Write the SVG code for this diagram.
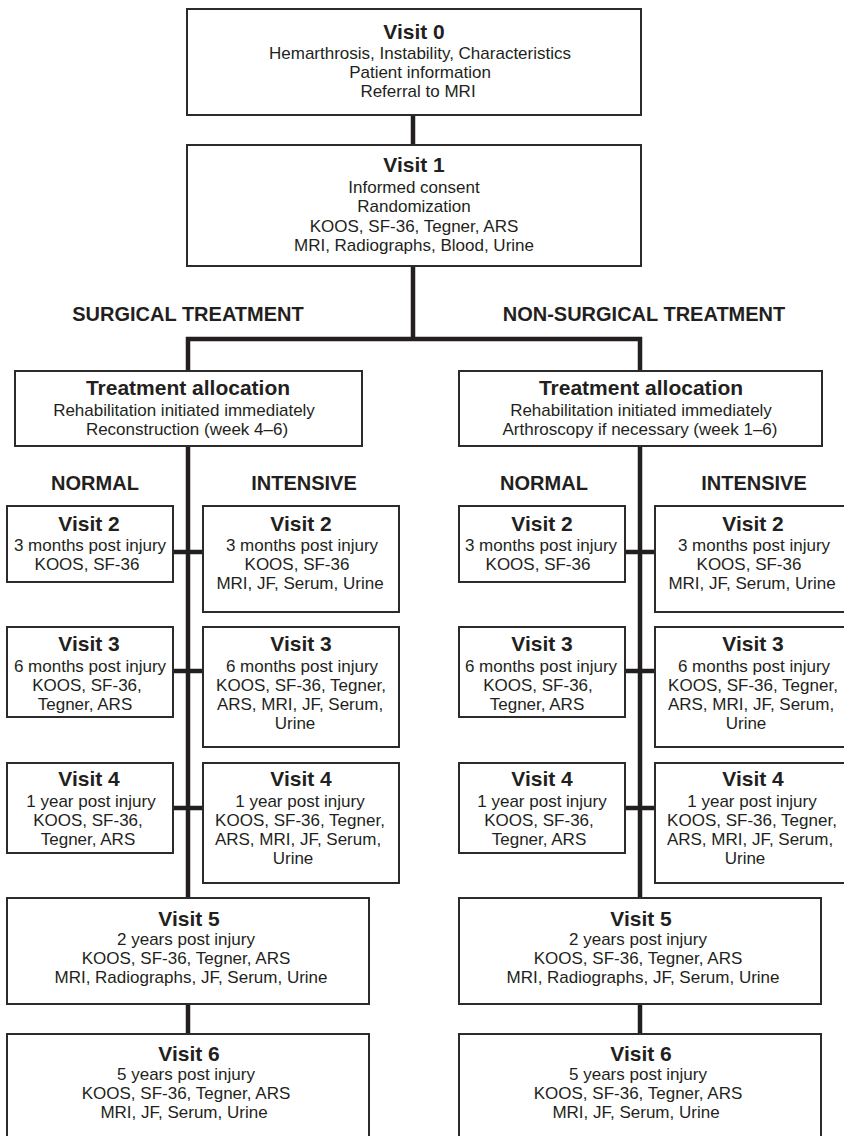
<svg xmlns="http://www.w3.org/2000/svg" width="844" height="1136" viewBox="0 0 844 1136">
<style>
.box{fill:#fff;stroke:#2b2b2b;stroke-width:2}
.con{fill:none;stroke:#231f20;stroke-width:4.5;stroke-linejoin:miter;stroke-linecap:butt}
text{font-family:"Liberation Sans",Arial,sans-serif;fill:#231f20;text-anchor:middle}
.t{font-size:21px;font-weight:bold}
.b{font-size:17px}
.h{font-size:20px;font-weight:bold}
</style>
<rect width="844" height="1136" fill="#fff"/>
<g id="connectors">
<path class="con" d="M413 115V145"/>
<path class="con" d="M413 266V339"/>
<path class="con" d="M188 371V339H640V371"/>
<path class="con" d="M188 446V898"/>
<path class="con" d="M640 446V898"/>
<path class="con" d="M188 1004V1034"/>
<path class="con" d="M640 1004V1034"/>
<path class="con" d="M173 552H203M173 671H203M173 808H203"/>
<path class="con" d="M625 552H655M625 671H655M625 808H655"/>
</g>
<g id="headers">
<text class="h" x="188" y="321">SURGICAL TREATMENT</text>
<text class="h" x="644" y="321">NON-SURGICAL TREATMENT</text>
<text class="h" x="95" y="490">NORMAL</text>
<text class="h" x="304" y="490">INTENSIVE</text>
<text class="h" x="544" y="490">NORMAL</text>
<text class="h" x="754" y="490">INTENSIVE</text>
</g>
<g id="visit0">
<rect class="box" x="187" y="9" width="454" height="106"/>
<text class="t" x="414" y="39">Visit 0</text>
<text class="b" x="420" y="59">Hemarthrosis, Instability, Characteristics</text>
<text class="b" x="420" y="78">Patient information</text>
<text class="b" x="418" y="97">Referral to MRI</text>
</g>
<g id="visit1">
<rect class="box" x="187" y="145" width="454" height="121"/>
<text class="t" x="414" y="172">Visit 1</text>
<text class="b" x="414" y="193">Informed consent</text>
<text class="b" x="414" y="212">Randomization</text>
<text class="b" x="414" y="232">KOOS, SF-36, Tegner, ARS</text>
<text class="b" x="414" y="251">MRI, Radiographs, Blood, Urine</text>
</g>
<g id="alloc-surgical">
<rect class="box" x="15" y="371" width="347" height="75"/>
<text class="t" x="188" y="395">Treatment allocation</text>
<text class="b" x="184" y="416">Rehabilitation initiated immediately</text>
<text class="b" x="187" y="435">Reconstruction (week 4–6)</text>
</g>
<g id="alloc-nonsurgical">
<rect class="box" x="459" y="371" width="363" height="75"/>
<text class="t" x="641" y="395">Treatment allocation</text>
<text class="b" x="641" y="416">Rehabilitation initiated immediately</text>
<text class="b" x="640" y="435">Arthroscopy if necessary (week 1–6)</text>
</g>
<g id="s-normal-v2">
<rect class="box" x="7" y="506" width="166" height="76"/>
<text class="t" x="89" y="531">Visit 2</text>
<text class="b" x="90" y="551">3 months post injury</text>
<text class="b" x="87" y="570">KOOS, SF-36</text>
</g>
<g id="s-intensive-v2">
<rect class="box" x="203" y="506" width="196" height="106"/>
<text class="t" x="301" y="531">Visit 2</text>
<text class="b" x="302" y="551">3 months post injury</text>
<text class="b" x="297" y="570">KOOS, SF-36</text>
<text class="b" x="300" y="589">MRI, JF, Serum, Urine</text>
</g>
<g id="s-normal-v3">
<rect class="box" x="7" y="627" width="166" height="90"/>
<text class="t" x="89" y="651">Visit 3</text>
<text class="b" x="90" y="672">6 months post injury</text>
<text class="b" x="87" y="691">KOOS, SF-36,</text>
<text class="b" x="85" y="710">Tegner, ARS</text>
</g>
<g id="s-intensive-v3">
<rect class="box" x="203" y="627" width="196" height="120"/>
<text class="t" x="301" y="651">Visit 3</text>
<text class="b" x="302" y="672">6 months post injury</text>
<text class="b" x="301" y="691">KOOS, SF-36, Tegner,</text>
<text class="b" x="300" y="710">ARS, MRI, JF, Serum,</text>
<text class="b" x="295" y="729">Urine</text>
</g>
<g id="s-normal-v4">
<rect class="box" x="7" y="763" width="166" height="90"/>
<text class="t" x="89" y="786">Visit 4</text>
<text class="b" x="91" y="807">1 year post injury</text>
<text class="b" x="88" y="826">KOOS, SF-36,</text>
<text class="b" x="88" y="845">Tegner, ARS</text>
</g>
<g id="s-intensive-v4">
<rect class="box" x="203" y="763" width="196" height="120"/>
<text class="t" x="301" y="786">Visit 4</text>
<text class="b" x="300" y="807">1 year post injury</text>
<text class="b" x="300" y="826">KOOS, SF-36, Tegner,</text>
<text class="b" x="298" y="845">ARS, MRI, JF, Serum,</text>
<text class="b" x="293" y="864">Urine</text>
</g>
<g id="n-normal-v2">
<rect class="box" x="459" y="506" width="166" height="76"/>
<text class="t" x="542" y="531">Visit 2</text>
<text class="b" x="541" y="551">3 months post injury</text>
<text class="b" x="538" y="570">KOOS, SF-36</text>
</g>
<g id="n-intensive-v2">
<rect class="box" x="655" y="506" width="196" height="106"/>
<text class="t" x="753" y="531">Visit 2</text>
<text class="b" x="754" y="551">3 months post injury</text>
<text class="b" x="749" y="570">KOOS, SF-36</text>
<text class="b" x="752" y="589">MRI, JF, Serum, Urine</text>
</g>
<g id="n-normal-v3">
<rect class="box" x="459" y="627" width="166" height="90"/>
<text class="t" x="542" y="651">Visit 3</text>
<text class="b" x="541" y="672">6 months post injury</text>
<text class="b" x="538" y="691">KOOS, SF-36,</text>
<text class="b" x="537" y="710">Tegner, ARS</text>
</g>
<g id="n-intensive-v3">
<rect class="box" x="655" y="627" width="196" height="120"/>
<text class="t" x="753" y="651">Visit 3</text>
<text class="b" x="754" y="672">6 months post injury</text>
<text class="b" x="753" y="691">KOOS, SF-36, Tegner,</text>
<text class="b" x="751" y="710">ARS, MRI, JF, Serum,</text>
<text class="b" x="746" y="729">Urine</text>
</g>
<g id="n-normal-v4">
<rect class="box" x="459" y="763" width="166" height="90"/>
<text class="t" x="542" y="786">Visit 4</text>
<text class="b" x="542" y="807">1 year post injury</text>
<text class="b" x="539" y="826">KOOS, SF-36,</text>
<text class="b" x="539" y="845">Tegner, ARS</text>
</g>
<g id="n-intensive-v4">
<rect class="box" x="655" y="763" width="196" height="120"/>
<text class="t" x="753" y="786">Visit 4</text>
<text class="b" x="752" y="807">1 year post injury</text>
<text class="b" x="752" y="826">KOOS, SF-36, Tegner,</text>
<text class="b" x="750" y="845">ARS, MRI, JF, Serum,</text>
<text class="b" x="745" y="864">Urine</text>
</g>
<g id="s-v5">
<rect class="box" x="7" y="898" width="362" height="106"/>
<text class="t" x="189" y="926">Visit 5</text>
<text class="b" x="186" y="945">2 years post injury</text>
<text class="b" x="186" y="964">KOOS, SF-36, Tegner, ARS</text>
<text class="b" x="191" y="983">MRI, Radiographs, JF, Serum, Urine</text>
</g>
<g id="n-v5">
<rect class="box" x="459" y="898" width="362" height="106"/>
<text class="t" x="641" y="926">Visit 5</text>
<text class="b" x="638" y="945">2 years post injury</text>
<text class="b" x="638" y="964">KOOS, SF-36, Tegner, ARS</text>
<text class="b" x="643" y="983">MRI, Radiographs, JF, Serum, Urine</text>
</g>
<g id="s-v6">
<rect class="box" x="7" y="1034" width="362" height="110"/>
<text class="t" x="189" y="1061">Visit 6</text>
<text class="b" x="186" y="1080">5 years post injury</text>
<text class="b" x="186" y="1099">KOOS, SF-36, Tegner, ARS</text>
<text class="b" x="184" y="1118">MRI, JF, Serum, Urine</text>
</g>
<g id="n-v6">
<rect class="box" x="459" y="1034" width="362" height="110"/>
<text class="t" x="641" y="1061">Visit 6</text>
<text class="b" x="638" y="1080">5 years post injury</text>
<text class="b" x="638" y="1099">KOOS, SF-36, Tegner, ARS</text>
<text class="b" x="636" y="1118">MRI, JF, Serum, Urine</text>
</g>
</svg>
